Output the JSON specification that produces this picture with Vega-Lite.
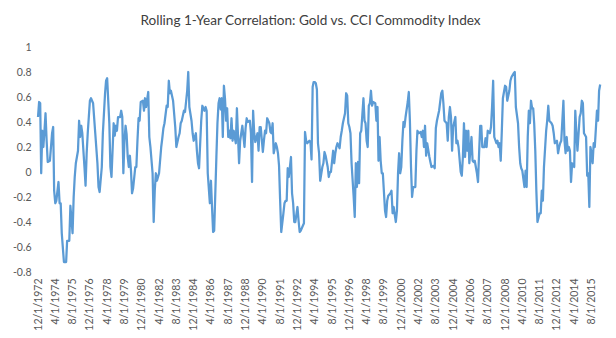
{
  "$schema": "https://vega.github.io/schema/vega-lite/v6.json",
  "autosize": {"type": "none"},
  "padding": {"left": 38, "top": 47, "right": 15, "bottom": 66},
  "width": 563,
  "height": 225,
  "background": "white",
  "title": {
    "text": "Rolling 1-Year Correlation: Gold vs. CCI Commodity Index",
    "anchor": "middle",
    "frame": "group",
    "font": "Lato",
    "fontSize": 13.6,
    "fontWeight": "normal",
    "color": "#404040",
    "offset": 14,
    "dx": -9
  },
  "config": {
    "view": {"stroke": null},
    "axis": {"labelFont": "Lato", "labelColor": "#595959", "labelFontSize": 10.5}
  },
  "layer": [
    {
      "mark": {"type": "rule", "color": "#d9d9d9", "strokeWidth": 1},
      "encoding": {"y": {"datum": 0, "type": "quantitative", "scale": {"domain": [-0.8, 1], "nice": false},
        "axis": {
            "title": null, "ticks": false, "domain": false, "grid": false,
            "values": [-0.8, -0.6, -0.4, -0.2, 0, 0.2, 0.4, 0.6, 0.8, 1],
            "labelExpr": "'' + datum.value",
            "labelOverlap": false,
            "labelPadding": 7, "labelFlush": false
          }}}
    },
    {
      "data": {"values": [
        {"d":"1972-12","v":0.44},{"d":"1973-01","v":0.56},{"d":"1973-02","v":0.55},{"d":"1973-03","v":-0.01},{"d":"1973-04","v":0.33},{"d":"1973-05","v":0.20},{"d":"1973-06","v":0.33},{"d":"1973-07","v":0.47},{"d":"1973-08","v":0.25},{"d":"1973-09","v":0.08},{"d":"1973-11","v":0.09},
        {"d":"1974-01","v":0.31},{"d":"1974-02","v":0.36},{"d":"1974-03","v":-0.15},{"d":"1974-04","v":-0.25},{"d":"1974-05","v":-0.23},{"d":"1974-07","v":-0.08},{"d":"1974-08","v":-0.25},{"d":"1974-09","v":-0.25},{"d":"1974-10","v":-0.49},{"d":"1974-12","v":-0.72},
        {"d":"1975-02","v":-0.72},{"d":"1975-03","v":-0.55},{"d":"1975-05","v":-0.55},{"d":"1975-06","v":-0.27},{"d":"1975-08","v":-0.49},{"d":"1975-09","v":-0.20},{"d":"1975-10","v":-0.04},{"d":"1975-11","v":0.07},
        {"d":"1976-01","v":0.17},{"d":"1976-02","v":0.41},{"d":"1976-03","v":0.28},{"d":"1976-04","v":0.37},{"d":"1976-05","v":0.31},{"d":"1976-07","v":0.04},{"d":"1976-08","v":-0.11},{"d":"1976-09","v":0.15},{"d":"1976-10","v":0.31},{"d":"1976-12","v":0.57},
        {"d":"1977-01","v":0.59},{"d":"1977-03","v":0.55},{"d":"1977-05","v":0.31},{"d":"1977-07","v":0.07},{"d":"1977-08","v":-0.12},{"d":"1977-09","v":-0.16},{"d":"1977-11","v":0.04},{"d":"1977-12","v":0.31},
        {"d":"1978-02","v":0.63},{"d":"1978-03","v":0.73},{"d":"1978-04","v":0.75},{"d":"1978-06","v":0.39},{"d":"1978-07","v":0.04},{"d":"1978-08","v":-0.04},{"d":"1978-10","v":0.39},{"d":"1978-11","v":0.29},{"d":"1978-12","v":0.37},
        {"d":"1979-01","v":0.33},{"d":"1979-02","v":0.44},{"d":"1979-04","v":0.44},{"d":"1979-05","v":0.49},{"d":"1979-06","v":0.44},{"d":"1979-07","v":-0.01},{"d":"1979-08","v":0.25},{"d":"1979-09","v":0.37},{"d":"1979-10","v":0.30},{"d":"1979-11","v":0.12},{"d":"1979-12","v":0.04},
        {"d":"1980-01","v":0.13},{"d":"1980-02","v":0.01},{"d":"1980-03","v":-0.17},{"d":"1980-04","v":-0.13},{"d":"1980-06","v":0.04},{"d":"1980-07","v":0.04},{"d":"1980-08","v":0.25},{"d":"1980-09","v":0.43},{"d":"1980-10","v":0.41},{"d":"1980-11","v":0.56},
        {"d":"1981-01","v":0.57},{"d":"1981-02","v":0.49},{"d":"1981-03","v":0.59},{"d":"1981-04","v":0.52},{"d":"1981-06","v":0.64},{"d":"1981-07","v":0.28},{"d":"1981-08","v":0.20},{"d":"1981-10","v":-0.01},{"d":"1981-11","v":-0.40},{"d":"1981-12","v":-0.15},
        {"d":"1982-01","v":-0.01},{"d":"1982-02","v":-0.07},{"d":"1982-04","v":-0.01},{"d":"1982-06","v":0.20},{"d":"1982-07","v":0.27},{"d":"1982-08","v":0.35},{"d":"1982-09","v":0.39},{"d":"1982-11","v":0.53},{"d":"1982-12","v":0.52},
        {"d":"1983-01","v":0.73},{"d":"1983-02","v":0.63},{"d":"1983-03","v":0.65},{"d":"1983-05","v":0.57},{"d":"1983-07","v":0.36},{"d":"1983-08","v":0.20},{"d":"1983-10","v":0.28},{"d":"1983-11","v":0.31},{"d":"1983-12","v":0.39},
        {"d":"1984-01","v":0.41},{"d":"1984-03","v":0.49},{"d":"1984-04","v":0.48},{"d":"1984-06","v":0.65},{"d":"1984-07","v":0.80},{"d":"1984-08","v":0.52},{"d":"1984-10","v":0.41},{"d":"1984-11","v":0.31},{"d":"1984-12","v":0.25},
        {"d":"1985-02","v":0.31},{"d":"1985-03","v":0.17},{"d":"1985-04","v":0.07},{"d":"1985-05","v":0.03},{"d":"1985-07","v":0.41},{"d":"1985-08","v":0.53},{"d":"1985-10","v":0.49},{"d":"1985-11","v":0.52},{"d":"1985-12","v":0.49},
        {"d":"1986-01","v":-0.01},{"d":"1986-03","v":-0.25},{"d":"1986-04","v":-0.07},{"d":"1986-05","v":-0.28},{"d":"1986-06","v":-0.48},{"d":"1986-07","v":-0.47},{"d":"1986-09","v":0.12},{"d":"1986-10","v":0.39},{"d":"1986-11","v":0.55},{"d":"1986-12","v":0.59},
        {"d":"1987-01","v":0.50},{"d":"1987-02","v":0.59},{"d":"1987-03","v":0.28},{"d":"1987-04","v":0.69},{"d":"1987-05","v":0.59},{"d":"1987-06","v":0.41},{"d":"1987-07","v":0.51},{"d":"1987-08","v":0.28},{"d":"1987-09","v":0.33},{"d":"1987-10","v":0.27},{"d":"1987-11","v":0.43},{"d":"1987-12","v":0.25},
        {"d":"1988-01","v":0.33},{"d":"1988-03","v":0.23},{"d":"1988-04","v":0.51},{"d":"1988-06","v":0.07},{"d":"1988-07","v":0.25},{"d":"1988-08","v":0.31},{"d":"1988-09","v":0.37},{"d":"1988-11","v":0.20},{"d":"1988-12","v":0.35},
        {"d":"1989-01","v":0.43},{"d":"1989-02","v":0.40},{"d":"1989-04","v":0.41},{"d":"1989-05","v":0.31},{"d":"1989-06","v":-0.08},{"d":"1989-07","v":0.49},{"d":"1989-08","v":0.31},{"d":"1989-09","v":0.24},{"d":"1989-11","v":0.31},{"d":"1989-12","v":0.17},
        {"d":"1990-01","v":0.36},{"d":"1990-02","v":0.36},{"d":"1990-04","v":0.16},{"d":"1990-05","v":0.25},{"d":"1990-06","v":0.33},{"d":"1990-07","v":0.31},{"d":"1990-08","v":0.43},{"d":"1990-10","v":0.39},{"d":"1990-11","v":0.32},{"d":"1990-12","v":0.31},
        {"d":"1991-01","v":0.39},{"d":"1991-02","v":0.15},{"d":"1991-04","v":0.23},{"d":"1991-05","v":0.20},{"d":"1991-06","v":0.15},{"d":"1991-07","v":0.05},{"d":"1991-08","v":-0.23},{"d":"1991-09","v":-0.48},{"d":"1991-11","v":-0.33},{"d":"1991-12","v":-0.25},
        {"d":"1992-01","v":-0.23},{"d":"1992-02","v":-0.23},{"d":"1992-03","v":0.03},{"d":"1992-04","v":-0.04},{"d":"1992-06","v":0.12},{"d":"1992-07","v":-0.17},{"d":"1992-08","v":-0.25},{"d":"1992-09","v":-0.40},{"d":"1992-10","v":-0.40},{"d":"1992-12","v":-0.28},
        {"d":"1993-01","v":-0.39},{"d":"1993-02","v":-0.48},{"d":"1993-03","v":-0.47},{"d":"1993-05","v":-0.43},{"d":"1993-06","v":-0.41},{"d":"1993-07","v":0.32},{"d":"1993-08","v":0.25},{"d":"1993-09","v":0.23},{"d":"1993-11","v":0.25},{"d":"1993-12","v":0.24},
        {"d":"1994-01","v":0.10},{"d":"1994-02","v":0.68},{"d":"1994-03","v":0.72},{"d":"1994-04","v":0.72},{"d":"1994-05","v":0.71},{"d":"1994-06","v":0.66},{"d":"1994-07","v":0.23},{"d":"1994-08","v":0.15},{"d":"1994-09","v":-0.07},{"d":"1994-11","v":0.04},{"d":"1994-12","v":0.07},
        {"d":"1995-01","v":0.16},{"d":"1995-02","v":0.13},{"d":"1995-04","v":0.04},{"d":"1995-05","v":-0.04},{"d":"1995-06","v":0.00},{"d":"1995-07","v":0.00},{"d":"1995-09","v":0.17},{"d":"1995-10","v":0.07},{"d":"1995-11","v":0.15},{"d":"1995-12","v":0.20},
        {"d":"1996-01","v":0.23},{"d":"1996-03","v":0.19},{"d":"1996-04","v":0.28},{"d":"1996-05","v":0.33},{"d":"1996-06","v":0.39},{"d":"1996-08","v":0.47},{"d":"1996-09","v":0.63},{"d":"1996-10","v":0.61},{"d":"1996-11","v":0.39},{"d":"1996-12","v":0.36},
        {"d":"1997-01","v":0.31},{"d":"1997-02","v":0.07},{"d":"1997-04","v":-0.20},{"d":"1997-05","v":-0.36},{"d":"1997-06","v":0.07},{"d":"1997-07","v":-0.12},{"d":"1997-08","v":0.08},{"d":"1997-09","v":-0.09},{"d":"1997-10","v":0.31},{"d":"1997-11","v":0.33},
        {"d":"1998-01","v":0.59},{"d":"1998-02","v":0.41},{"d":"1998-03","v":0.39},{"d":"1998-04","v":0.25},{"d":"1998-05","v":0.20},{"d":"1998-06","v":0.53},{"d":"1998-07","v":0.55},{"d":"1998-08","v":0.65},{"d":"1998-09","v":0.53},{"d":"1998-10","v":0.56},{"d":"1998-12","v":0.55},
        {"d":"1999-01","v":0.41},{"d":"1999-02","v":0.52},{"d":"1999-03","v":0.09},{"d":"1999-04","v":0.28},{"d":"1999-05","v":0.09},{"d":"1999-06","v":-0.01},{"d":"1999-07","v":-0.01},{"d":"1999-09","v":-0.31},{"d":"1999-10","v":-0.36},{"d":"1999-11","v":-0.23},{"d":"1999-12","v":-0.19},
        {"d":"2000-02","v":-0.17},{"d":"2000-03","v":-0.15},{"d":"2000-04","v":-0.33},{"d":"2000-05","v":-0.28},{"d":"2000-07","v":-0.40},{"d":"2000-08","v":-0.31},{"d":"2000-09","v":-0.01},{"d":"2000-10","v":0.15},{"d":"2000-11","v":-0.01},{"d":"2000-12","v":0.04},
        {"d":"2001-01","v":0.25},{"d":"2001-02","v":0.40},{"d":"2001-03","v":0.36},{"d":"2001-04","v":0.44},{"d":"2001-06","v":0.56},{"d":"2001-07","v":0.64},{"d":"2001-08","v":0.41},{"d":"2001-09","v":0.04},{"d":"2001-10","v":-0.20},{"d":"2001-11","v":-0.12},
        {"d":"2002-01","v":-0.12},{"d":"2002-02","v":0.17},{"d":"2002-03","v":0.33},{"d":"2002-04","v":0.31},{"d":"2002-06","v":0.32},{"d":"2002-07","v":0.28},{"d":"2002-08","v":0.33},{"d":"2002-09","v":0.20},{"d":"2002-10","v":0.37},{"d":"2002-11","v":0.13},{"d":"2002-12","v":0.23},
        {"d":"2003-02","v":0.12},{"d":"2003-03","v":0.08},{"d":"2003-04","v":0.04},{"d":"2003-06","v":0.05},{"d":"2003-07","v":0.03},{"d":"2003-08","v":0.35},{"d":"2003-09","v":0.41},{"d":"2003-10","v":0.45},{"d":"2003-11","v":0.49},
        {"d":"2004-01","v":0.63},{"d":"2004-02","v":0.65},{"d":"2004-03","v":0.55},{"d":"2004-04","v":0.41},{"d":"2004-06","v":0.39},{"d":"2004-07","v":0.25},{"d":"2004-08","v":0.44},{"d":"2004-09","v":0.52},{"d":"2004-10","v":0.44},{"d":"2004-11","v":0.17},{"d":"2004-12","v":0.36},
        {"d":"2005-02","v":0.44},{"d":"2005-03","v":0.23},{"d":"2005-04","v":0.25},{"d":"2005-05","v":0.20},{"d":"2005-07","v":0.00},{"d":"2005-08","v":-0.03},{"d":"2005-09","v":0.12},{"d":"2005-10","v":0.39},{"d":"2005-11","v":0.12},{"d":"2005-12","v":0.33},
        {"d":"2006-01","v":0.17},{"d":"2006-02","v":0.33},{"d":"2006-03","v":0.07},{"d":"2006-05","v":0.28},{"d":"2006-06","v":0.09},{"d":"2006-07","v":0.08},{"d":"2006-08","v":0.09},{"d":"2006-10","v":-0.01},{"d":"2006-11","v":-0.08},{"d":"2006-12","v":0.15},
        {"d":"2007-01","v":0.37},{"d":"2007-02","v":0.37},{"d":"2007-03","v":0.20},{"d":"2007-05","v":0.20},{"d":"2007-06","v":0.27},{"d":"2007-07","v":0.20},{"d":"2007-08","v":0.33},{"d":"2007-10","v":0.31},{"d":"2007-11","v":0.36},{"d":"2007-12","v":0.52},
        {"d":"2008-01","v":0.73},{"d":"2008-02","v":0.28},{"d":"2008-04","v":0.23},{"d":"2008-05","v":0.25},{"d":"2008-06","v":0.20},{"d":"2008-07","v":0.23},{"d":"2008-08","v":0.09},{"d":"2008-09","v":0.33},{"d":"2008-10","v":0.59},{"d":"2008-12","v":0.69},
        {"d":"2009-01","v":0.68},{"d":"2009-02","v":0.57},{"d":"2009-04","v":0.65},{"d":"2009-05","v":0.73},{"d":"2009-06","v":0.76},{"d":"2009-08","v":0.79},{"d":"2009-09","v":0.80},{"d":"2009-10","v":0.52},{"d":"2009-12","v":0.39},
        {"d":"2010-01","v":0.20},{"d":"2010-02","v":0.07},{"d":"2010-03","v":0.03},{"d":"2010-04","v":0.01},{"d":"2010-06","v":-0.12},{"d":"2010-07","v":0.01},{"d":"2010-08","v":-0.12},{"d":"2010-09","v":0.28},{"d":"2010-10","v":0.49},{"d":"2010-11","v":0.39},{"d":"2010-12","v":0.57},
        {"d":"2011-01","v":0.51},{"d":"2011-02","v":0.51},{"d":"2011-03","v":0.39},{"d":"2011-04","v":0.17},{"d":"2011-05","v":-0.15},{"d":"2011-06","v":-0.40},{"d":"2011-08","v":-0.33},{"d":"2011-09","v":-0.33},{"d":"2011-10","v":-0.15},{"d":"2011-11","v":-0.23},{"d":"2011-12","v":0.04},
        {"d":"2012-02","v":0.33},{"d":"2012-03","v":0.41},{"d":"2012-04","v":0.53},{"d":"2012-05","v":0.41},{"d":"2012-07","v":0.39},{"d":"2012-08","v":0.37},{"d":"2012-09","v":0.31},{"d":"2012-10","v":0.23},{"d":"2012-12","v":0.25},
        {"d":"2013-01","v":0.15},{"d":"2013-02","v":0.20},{"d":"2013-03","v":0.23},{"d":"2013-04","v":0.25},{"d":"2013-06","v":0.57},{"d":"2013-07","v":0.25},{"d":"2013-08","v":0.15},{"d":"2013-09","v":0.28},{"d":"2013-10","v":0.17},{"d":"2013-11","v":0.20},{"d":"2013-12","v":0.17},
        {"d":"2014-01","v":-0.08},{"d":"2014-02","v":0.07},{"d":"2014-04","v":0.04},{"d":"2014-05","v":0.49},{"d":"2014-06","v":0.31},{"d":"2014-07","v":0.17},{"d":"2014-09","v":0.44},{"d":"2014-10","v":0.47},{"d":"2014-11","v":0.57},{"d":"2014-12","v":0.55},
        {"d":"2015-01","v":0.31},{"d":"2015-03","v":0.28},{"d":"2015-04","v":-0.03},{"d":"2015-05","v":-0.01},{"d":"2015-06","v":-0.28},{"d":"2015-07","v":0.20},{"d":"2015-08","v":0.15},{"d":"2015-09","v":0.07},{"d":"2015-10","v":0.23},{"d":"2015-11","v":0.20},
        {"d":"2016-01","v":0.49},{"d":"2016-02","v":0.41},{"d":"2016-03","v":0.65},{"d":"2016-04","v":0.70}
      ]},
      "mark": {"type": "line", "color": "#5b9bd5", "strokeWidth": 2.25, "strokeJoin": "round"},
      "encoding": {
        "x": {
          "field": "d", "type": "temporal",
          "scale": {"type": "utc", "domain": [{"year": 1972, "month": 12, "date": 1, "utc": true}, {"year": 2016, "month": 4, "date": 24, "utc": true}]},
          "axis": {
            "title": null, "ticks": false, "domain": false, "grid": false,
            "labelAngle": -90, "labelPadding": 6, "labelOverlap": false, "labelFlush": false,
            "format": "%-m/%-d/%Y",
            "values": [
              {"year": 1972, "month": 12, "date": 1, "utc": true},
              {"year": 1974, "month": 4, "date": 1, "utc": true},
              {"year": 1975, "month": 8, "date": 1, "utc": true},
              {"year": 1976, "month": 12, "date": 1, "utc": true},
              {"year": 1978, "month": 4, "date": 1, "utc": true},
              {"year": 1979, "month": 8, "date": 1, "utc": true},
              {"year": 1980, "month": 12, "date": 1, "utc": true},
              {"year": 1982, "month": 4, "date": 1, "utc": true},
              {"year": 1983, "month": 8, "date": 1, "utc": true},
              {"year": 1984, "month": 12, "date": 1, "utc": true},
              {"year": 1986, "month": 4, "date": 1, "utc": true},
              {"year": 1987, "month": 8, "date": 1, "utc": true},
              {"year": 1988, "month": 12, "date": 1, "utc": true},
              {"year": 1990, "month": 4, "date": 1, "utc": true},
              {"year": 1991, "month": 8, "date": 1, "utc": true},
              {"year": 1992, "month": 12, "date": 1, "utc": true},
              {"year": 1994, "month": 4, "date": 1, "utc": true},
              {"year": 1995, "month": 8, "date": 1, "utc": true},
              {"year": 1996, "month": 12, "date": 1, "utc": true},
              {"year": 1998, "month": 4, "date": 1, "utc": true},
              {"year": 1999, "month": 8, "date": 1, "utc": true},
              {"year": 2000, "month": 12, "date": 1, "utc": true},
              {"year": 2002, "month": 4, "date": 1, "utc": true},
              {"year": 2003, "month": 8, "date": 1, "utc": true},
              {"year": 2004, "month": 12, "date": 1, "utc": true},
              {"year": 2006, "month": 4, "date": 1, "utc": true},
              {"year": 2007, "month": 8, "date": 1, "utc": true},
              {"year": 2008, "month": 12, "date": 1, "utc": true},
              {"year": 2010, "month": 4, "date": 1, "utc": true},
              {"year": 2011, "month": 8, "date": 1, "utc": true},
              {"year": 2012, "month": 12, "date": 1, "utc": true},
              {"year": 2014, "month": 4, "date": 1, "utc": true},
              {"year": 2015, "month": 8, "date": 1, "utc": true}
            ]
          }
        },
        "y": {
          "field": "v", "type": "quantitative",
          "scale": {"domain": [-0.8, 1], "nice": false},
          "axis": {
            "title": null, "ticks": false, "domain": false, "grid": false,
            "values": [-0.8, -0.6, -0.4, -0.2, 0, 0.2, 0.4, 0.6, 0.8, 1],
            "labelExpr": "'' + datum.value",
            "labelOverlap": false,
            "labelPadding": 7, "labelFlush": false
          }
        }
      }
    }
  ]
}
